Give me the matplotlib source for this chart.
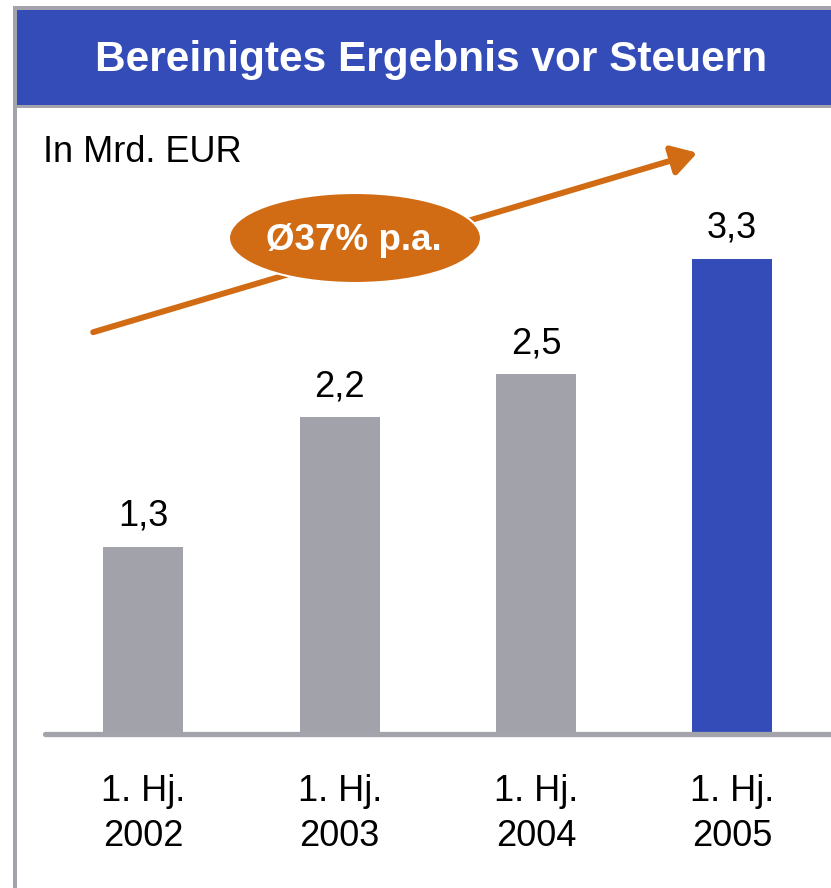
import matplotlib
matplotlib.use('Agg')
import matplotlib.pyplot as plt
from matplotlib.patches import Rectangle, Ellipse, FancyArrowPatch

plt.rcParams['font.family'] = ['Liberation Sans', 'DejaVu Sans']

# data
periods = ['1. Hj.\n2002', '1. Hj.\n2003', '1. Hj.\n2004', '1. Hj.\n2005']
values = [1.3, 2.2, 2.5, 3.3]
value_labels = ['1,3', '2,2', '2,5', '3,3']
bar_colors = ['#a2a2ab', '#a2a2ab', '#a2a2ab', '#344cb8']
title = 'Bereinigtes Ergebnis vor Steuern'
unit = 'In Mrd. EUR'
growth = 'Ø37% p.a.'

BLUE = '#344cb8'
GRAY = '#a3a3ab'
ORANGE = '#d16c14'

W, H = 831, 888
fig = plt.figure(figsize=(W / 100, H / 100), dpi=100)
fig.patch.set_facecolor('white')

# frame and title band (pixel coords -> figure fraction)
def px_rect(x0, y0, x1, y1, color, z=0):
    r = Rectangle((x0 / W, 1 - y1 / H), (x1 - x0) / W, (y1 - y0) / H,
                  transform=fig.transFigure, facecolor=color, edgecolor='none', zorder=z)
    fig.add_artist(r)

px_rect(13, 10, W, 105, BLUE)
px_rect(13, 6, W, 10, GRAY)
px_rect(13, 105, W, 108, GRAY)
px_rect(13, 6, 17, H, GRAY)

fig.text(431 / W, 1 - 60 / H, title, color='white', fontsize=30.5, fontweight='bold',
         ha='center', va='center')
fig.text(43 / W, 1 - 153 / H, unit, color='black', fontsize=26, ha='left', va='center')

# bar axes: baseline at y=734 px, 144 px per unit
base_px = 734
ax = fig.add_axes([43 / W, (H - base_px) / H, (W - 43) / W, 576 / H])
ax.set_facecolor('none')
x = list(range(len(values)))
bars = ax.bar(x, values, width=0.408, color=bar_colors, zorder=2)
ax.set_ylim(0, 4.0)
ax.set_xlim(-0.512, 3.504)
for s in ax.spines.values():
    s.set_visible(False)
ax.set_yticks([])
ax.set_xticks(x)
ax.set_xticklabels(periods, fontsize=26, linespacing=1.35)
ax.tick_params(axis='x', length=0, pad=29)
ax.plot([-0.5, 3.504], [0, 0], color=GRAY, lw=3.8, solid_capstyle='round',
        zorder=3, clip_on=False)

for b, lab in zip(bars, value_labels):
    ax.annotate(lab, (b.get_x() + b.get_width() / 2, b.get_height()),
                xytext=(0, 15), textcoords='offset points',
                ha='center', va='baseline', fontsize=26)

# growth arrow with ellipse badge (figure inches)
arrow = FancyArrowPatch((0.905, (H - 333) / 100), (7.0, (H - 152) / 100),
                        transform=fig.dpi_scale_trans,
                        arrowstyle='-|>,head_length=0.75,head_width=0.45',
                        mutation_scale=20, lw=4.3, color=ORANGE, zorder=5)
fig.add_artist(arrow)
ell = Ellipse((3.55, (H - 238) / 100), 2.52, 0.90, transform=fig.dpi_scale_trans,
              facecolor=ORANGE, edgecolor='white', lw=1.5, zorder=6)
fig.add_artist(ell)
fig.text(3.54 / (W / 100), 1 - 240 / H, growth, color='white', fontsize=26.5,
         fontweight='bold', ha='center', va='center', zorder=7)

fig.savefig('out.png', dpi=100)
